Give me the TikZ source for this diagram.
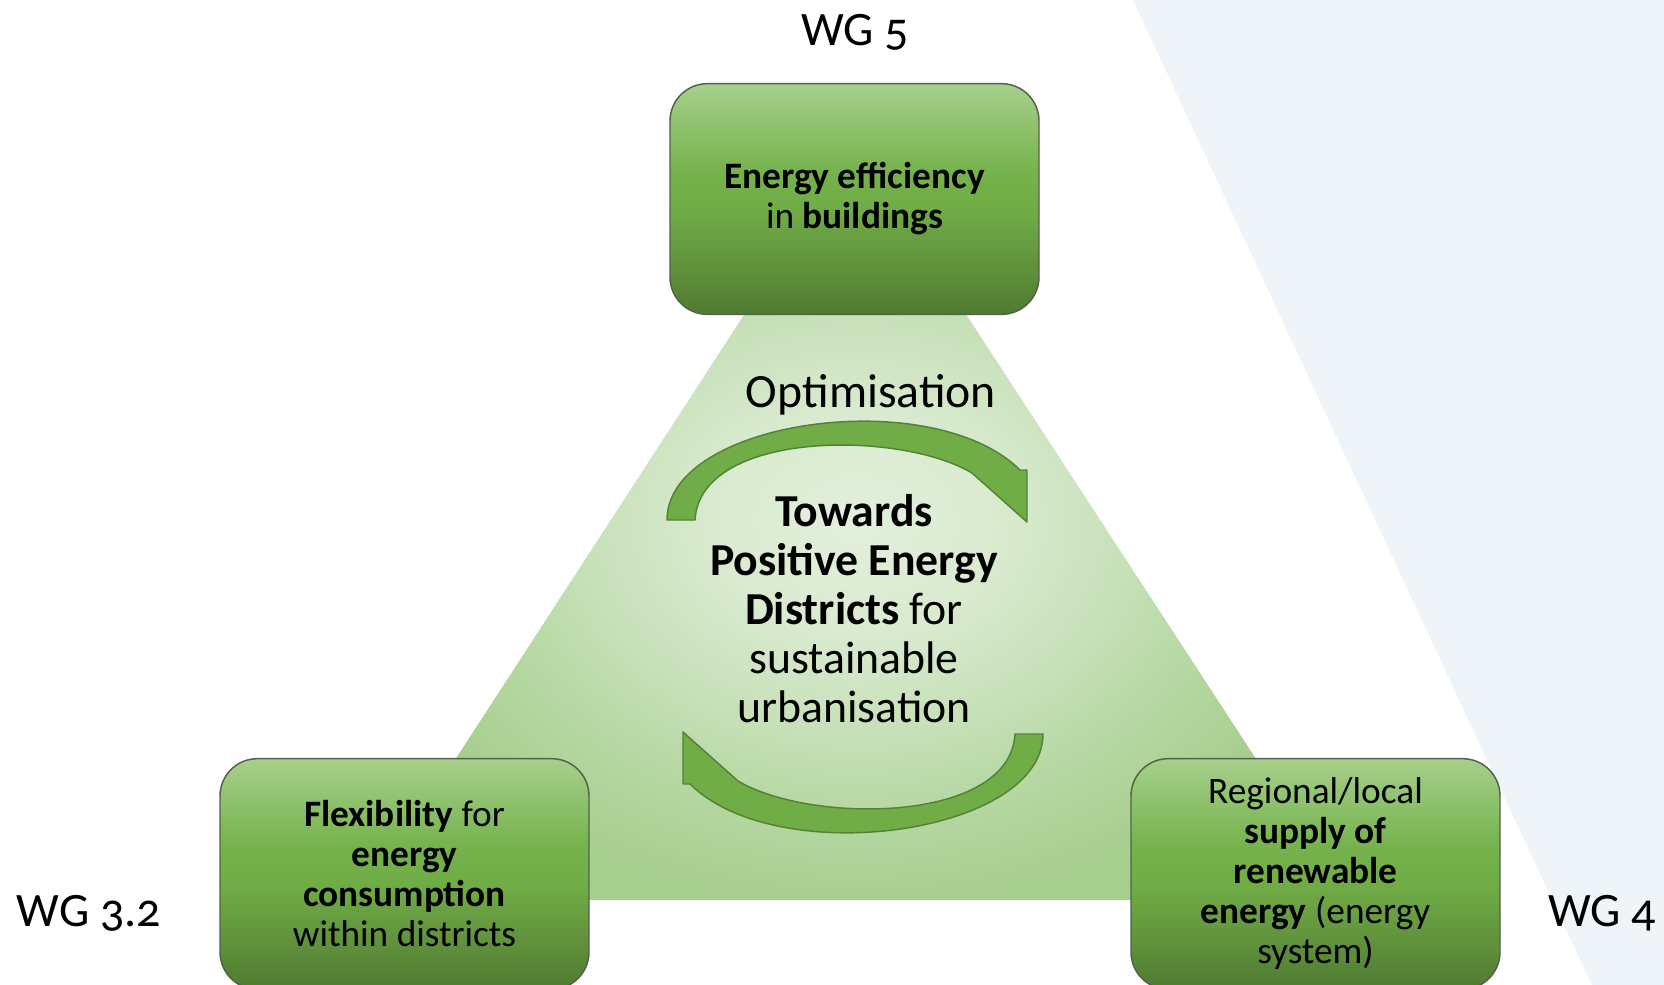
\documentclass[tikz,border=0pt]{standalone}
\usepackage{fontspec}
\setmainfont{Carlito}
\newfontfamily\wgfont{Carlito}[Numbers=OldStyle]
\definecolor{bgblue}{RGB}{238,244,247}
\definecolor{arrowfill}{RGB}{112,173,71}
\definecolor{arrowline}{RGB}{84,130,53}
\definecolor{boxline}{RGB}{82,98,72}
\pgfdeclareradialshading{trishade}{\pgfpoint{0bp}{0bp}}{rgb(0bp)=(0.890,0.940,0.865); rgb(7bp)=(0.855,0.920,0.815); rgb(13bp)=(0.790,0.885,0.735); rgb(19bp)=(0.715,0.848,0.640); rgb(25bp)=(0.655,0.810,0.565); rgb(50bp)=(0.655,0.810,0.565)}
\pgfdeclareverticalshading{boxshade}{100bp}{rgb(0bp)=(0.31,0.48,0.19); rgb(25bp)=(0.31,0.48,0.19); rgb(34bp)=(0.37,0.56,0.23); rgb(47.5bp)=(0.44,0.675,0.275); rgb(56bp)=(0.46,0.70,0.30); rgb(66bp)=(0.56,0.76,0.43); rgb(75bp)=(0.655,0.815,0.55); rgb(100bp)=(0.655,0.815,0.55)}
\tikzset{
  gbox/.style={draw=boxline, line width=1.1pt, rounded corners=28pt,
    shade, shading=boxshade,
    minimum width=276.75pt, minimum height=173pt, inner sep=0pt,
    align=center, text=black, font=\fontsize{28}{30}\selectfont},
  wglabel/.style={anchor=base, inner sep=0pt, font=\wgfont\fontsize{36}{40}\selectfont},
  cyclearrow/.pic={
    \filldraw[fill=arrowfill, draw=arrowline, line width=1.1pt, line join=round]
      (667,520) .. controls (667,420) and (932,383) .. (1020,470)
      -- (1027,470) -- (1027,522) -- (972,473)
      .. controls (900,430) and (700,430) .. (695,520)
      -- cycle;
  }
}
\begin{document}
\begin{tikzpicture}[x=0.75pt, y=-0.75pt]
\useasboundingbox[fill=white] (0,0) rectangle (1664,985);
% light background band on the right
\fill[bgblue] (1133,0) -- (1664,0) -- (1664,985) -- (1592,985) -- cycle;
% central triangle
\shade[shading=trishade] (855,144) -- (1348,900) -- (364,900) -- cycle;
% circular arrows
\pic (arrowtop) at (0,0) {cyclearrow};
\pic[rotate=180] (arrowbot) at (1710,1254) {cyclearrow};
% texts
\node[anchor=base, inner sep=0pt, font=\fontsize{35.8}{40}\selectfont] (opt) at (871,407) {Optimisation};
\node[align=center, inner sep=0pt, font=\fontsize{34.3}{36.75}\selectfont] (core) at (854,609)
  {\textbf{Towards}\\\textbf{Positive Energy}\\\textbf{Districts} for\\sustainable\\urbanisation};
% boxes
\node[gbox] (eff) at (854.5,199) {\textbf{Energy efficiency}\\in \textbf{buildings}};
\node[gbox] (flex) at (404.5,874) {\textbf{Flexibility} for\\\textbf{energy}\\\textbf{consumption}\\within districts};
\node[gbox] (supply) at (1315.5,874) {Regional/local\\\textbf{supply of}\\\textbf{renewable}\\\textbf{energy} (energy\\system)};
% working group labels
\node[wglabel] (wg5) at (855,45) {WG 5};
\node[wglabel] (wg32) at (89,926) {WG 3.2};
\node[wglabel] (wg4) at (1602,926) {WG 4};
\end{tikzpicture}
\end{document}
